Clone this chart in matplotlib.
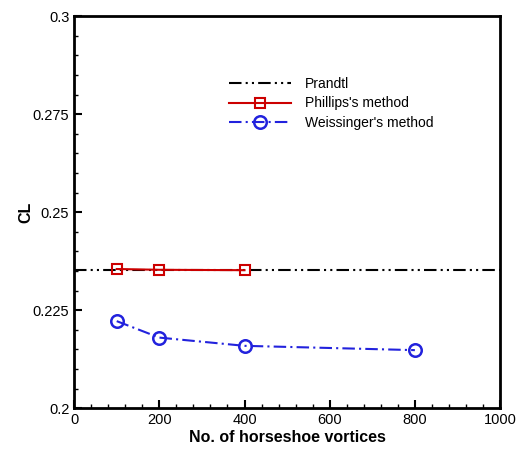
import matplotlib
matplotlib.use("Agg")
from matplotlib import pyplot as plt
from matplotlib.ticker import MultipleLocator

plt.rcParams["font.family"] = ["Liberation Sans", "DejaVu Sans"]

prandtl_cl = 0.2352
phillips_n = [100, 200, 400]
phillips_cl = [0.2355, 0.2353, 0.2352]
weiss_n = [100, 200, 400, 800]
weiss_cl = [0.2222, 0.2180, 0.2159, 0.2148]

fig = plt.figure(figsize=(5.22, 4.5), dpi=100)
ax = fig.add_axes([0.142, 0.093, 0.816, 0.871])

ax.axhline(prandtl_cl, color="black", lw=1.5, linestyle=(0, (6, 2, 1, 2, 1, 2)), label="Prandtl")
ax.plot(phillips_n, phillips_cl, color="#cc0000", lw=1.5, marker="s", markersize=7,
        markerfacecolor="none", markeredgewidth=1.5, label="Phillips's method")
ax.plot(weiss_n, weiss_cl, color="#2222dd", lw=1.5, linestyle=(0, (6, 2, 1, 2)), marker="o",
        markersize=9, markerfacecolor="none", markeredgewidth=1.8, label="Weissinger's method")

ax.set_xlim(0, 1000)
ax.set_ylim(0.2, 0.3)
ax.xaxis.set_major_locator(MultipleLocator(200))
ax.xaxis.set_minor_locator(MultipleLocator(40))
ax.yaxis.set_minor_locator(MultipleLocator(0.005))
ax.set_yticks([0.2, 0.225, 0.25, 0.275, 0.3])
ax.set_yticklabels(["0.2", "0.225", "0.25", "0.275", "0.3"])
ax.tick_params(which="both", direction="in", top=False, right=False, labelsize=10.5, colors="black")
ax.tick_params(which="major", length=6, width=1.5)
ax.tick_params(which="minor", length=3, width=1)
for s in ax.spines.values():
    s.set_linewidth(2)

ax.set_xlabel("No. of horseshoe vortices", fontsize=11.5, fontweight="bold", labelpad=2)
ax.set_ylabel("CL", fontsize=11.5, fontweight="bold")
ax.yaxis.set_label_coords(-0.095, 0.5)

ax.legend(loc="upper left", bbox_to_anchor=(0.34, 0.87), frameon=False, fontsize=10,
          handlelength=4.5, handletextpad=1.0, labelspacing=0.4, borderpad=0.2)

fig.savefig("out.png", dpi=100)
